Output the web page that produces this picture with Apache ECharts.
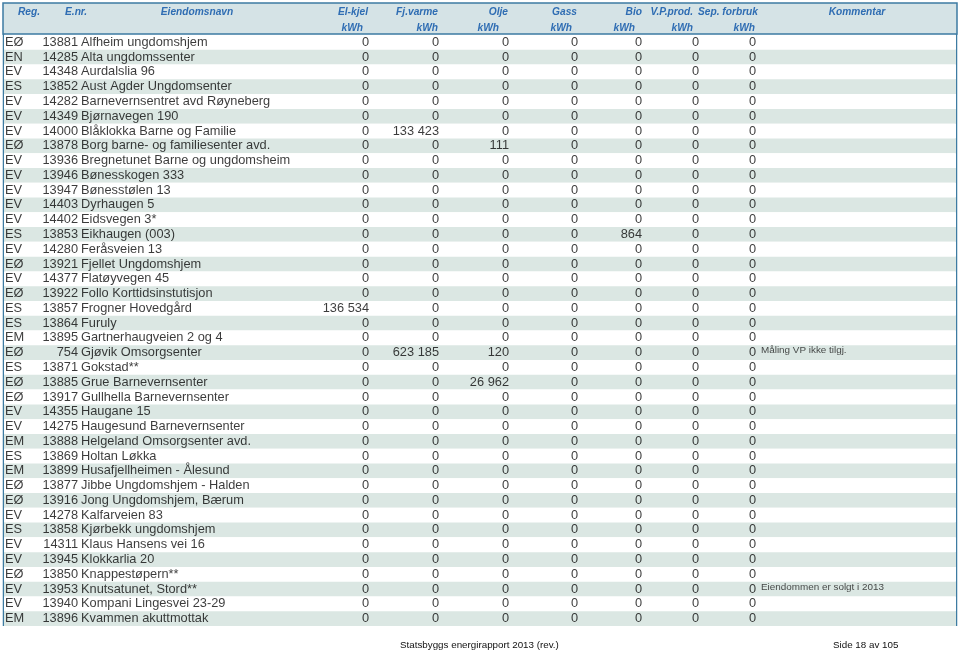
<!DOCTYPE html>
<html>
<head>
<meta charset="utf-8">
<title>Statsbygg energirapport 2013</title>
<script src="https://cdn.jsdelivr.net/npm/echarts@6/dist/echarts.min.js"></script>
<style>
  html, body { margin: 0; padding: 0; background: #fff; }
  #chart { width: 960px; height: 652px; }
</style>
</head>
<body>
<div id="chart"></div>
<script>
// table data, one entry per row
const reg = ["EØ", "EN", "EV", "ES", "EV", "EV", "EV", "EØ", "EV", "EV",
  "EV", "EV", "EV", "ES", "EV", "EØ", "EV", "EØ", "ES", "ES",
  "EM", "EØ", "ES", "EØ", "EØ", "EV", "EV", "EM", "ES", "EM",
  "EØ", "EØ", "EV", "ES", "EV", "EV", "EØ", "EV", "EV", "EM"];
const enr = [13881, 14285, 14348, 13852, 14282, 14349, 14000, 13878, 13936, 13946,
  13947, 14403, 14402, 13853, 14280, 13921, 14377, 13922, 13857, 13864,
  13895, 754, 13871, 13885, 13917, 14355, 14275, 13888, 13869, 13899,
  13877, 13916, 14278, 13858, 14311, 13945, 13850, 13953, 13940, 13896];
const names = [
  "Alfheim ungdomshjem", "Alta ungdomssenter", "Aurdalslia 96", "Aust Agder Ungdomsenter",
  "Barnevernsentret avd Røyneberg", "Bjørnavegen 190", "Blåklokka Barne og Familie",
  "Borg barne- og familiesenter avd.", "Bregnetunet Barne og ungdomsheim", "Bønesskogen 333",
  "Bønesstølen 13", "Dyrhaugen 5", "Eidsvegen 3*", "Eikhaugen (003)", "Feråsveien 13",
  "Fjellet Ungdomshjem", "Flatøyvegen 45", "Follo Korttidsinstutisjon", "Frogner Hovedgård",
  "Furuly", "Gartnerhaugveien 2 og 4", "Gjøvik Omsorgsenter", "Gokstad**",
  "Grue Barnevernsenter", "Gullhella Barnevernsenter", "Haugane 15", "Haugesund Barnevernsenter",
  "Helgeland Omsorgsenter avd.", "Holtan Løkka", "Husafjellheimen - Ålesund",
  "Jibbe Ungdomshjem - Halden", "Jong Ungdomshjem, Bærum", "Kalfarveien 83",
  "Kjørbekk ungdomshjem", "Klaus Hansens vei 16", "Klokkarlia 20", "Knappestøpern**",
  "Knutsatunet, Stord**", "Kompani Lingesvei 23-29", "Kvammen akuttmottak"
];
const elKjel = [0, 0, 0, 0, 0, 0, 0, 0, 0, 0,
  0, 0, 0, 0, 0, 0, 0, 0, 136534, 0,
  0, 0, 0, 0, 0, 0, 0, 0, 0, 0,
  0, 0, 0, 0, 0, 0, 0, 0, 0, 0];
const fjVarme = [0, 0, 0, 0, 0, 0, 133423, 0, 0, 0,
  0, 0, 0, 0, 0, 0, 0, 0, 0, 0,
  0, 623185, 0, 0, 0, 0, 0, 0, 0, 0,
  0, 0, 0, 0, 0, 0, 0, 0, 0, 0];
const olje = [0, 0, 0, 0, 0, 0, 0, 111, 0, 0,
  0, 0, 0, 0, 0, 0, 0, 0, 0, 0,
  0, 120, 0, 26962, 0, 0, 0, 0, 0, 0,
  0, 0, 0, 0, 0, 0, 0, 0, 0, 0];
const gass = [0, 0, 0, 0, 0, 0, 0, 0, 0, 0,
  0, 0, 0, 0, 0, 0, 0, 0, 0, 0,
  0, 0, 0, 0, 0, 0, 0, 0, 0, 0,
  0, 0, 0, 0, 0, 0, 0, 0, 0, 0];
const bio = [0, 0, 0, 0, 0, 0, 0, 0, 0, 0,
  0, 0, 0, 864, 0, 0, 0, 0, 0, 0,
  0, 0, 0, 0, 0, 0, 0, 0, 0, 0,
  0, 0, 0, 0, 0, 0, 0, 0, 0, 0];
const vpProd = [0, 0, 0, 0, 0, 0, 0, 0, 0, 0,
  0, 0, 0, 0, 0, 0, 0, 0, 0, 0,
  0, 0, 0, 0, 0, 0, 0, 0, 0, 0,
  0, 0, 0, 0, 0, 0, 0, 0, 0, 0];
const sepForbruk = [0, 0, 0, 0, 0, 0, 0, 0, 0, 0,
  0, 0, 0, 0, 0, 0, 0, 0, 0, 0,
  0, 0, 0, 0, 0, 0, 0, 0, 0, 0,
  0, 0, 0, 0, 0, 0, 0, 0, 0, 0];
const comments = {21: "Måling VP ikke tilgj.", 37: "Eiendommen er solgt i 2013"};

const headTop = ["Reg.", "E.nr.", "Eiendomsnavn", "El-kjel", "Fj.varme", "Olje", "Gass", "Bio", "V.P.prod.", "Sep. forbruk", "Kommentar"];
const footerLeft = "Statsbyggs energirapport 2013 (rev.)";
const footerRight = "Side 18 av 105";

// layout
const FONT = '"Liberation Sans", Arial, Helvetica, sans-serif';
const BLUE = "#2f6db3";
const BORDER = "#3d7ba2";
const rowIdx = names.map((_, i) => i);

function fmt(v) {
  return String(v).replace(/\B(?=(\d{3})+(?!\d))/g, " ");
}

const chart = echarts.init(document.getElementById("chart"), null, { renderer: "canvas" });

// x anchor of each column (right edge for numbers, left edge for text)
const cols = [
  { vals: reg, x: 5, align: "right", fmt: (v) => v },
  { vals: enr, x: 78, align: "left", fmt: (v) => String(v) },
  { vals: names, x: 81, align: "right", fmt: (v) => v },
  { vals: elKjel, x: 369, align: "left", fmt: fmt },
  { vals: fjVarme, x: 439, align: "left", fmt: fmt },
  { vals: olje, x: 509, align: "left", fmt: fmt },
  { vals: gass, x: 578, align: "left", fmt: fmt },
  { vals: bio, x: 642, align: "left", fmt: fmt },
  { vals: vpProd, x: 699, align: "left", fmt: fmt },
  { vals: sepForbruk, x: 756, align: "left", fmt: fmt },
];

const series = cols.map((c) => ({
  type: "scatter",
  symbolSize: 0,
  silent: true,
  data: c.vals.map((v, i) => ({ value: [c.x, i], label: { formatter: c.fmt(v) } })),
  label: {
    show: true,
    position: c.align,
    distance: 0,
    color: "#0a0a0a",
    fontSize: 12.8,
    fontFamily: FONT,
  },
}));

series.push({
  type: "scatter",
  symbolSize: 0,
  silent: true,
  data: Object.keys(comments).map((k) => ({ value: [761, +k], label: { formatter: comments[k] } })),
  label: {
    show: true,
    position: "right",
    distance: 0,
    offset: [0, -2],
    color: "#1a1a1a",
    fontSize: 9.9,
    fontFamily: FONT,
  },
});

// header label positions: [x, align]
const headPos = [
  [29, "center"], [65, "left"], [197, "center"], [368, "right"], [438, "right"],
  [508, "right"], [577, "right"], [642, "right"], [693, "right"], [758, "right"], [857, "center"],
];
const unitPos = [363, 438, 499, 572, 635, 693, 755];

const headerText = (text, x, y, align) => ({
  type: "text",
  x: x,
  y: y,
  silent: true,
  style: {
    text: text,
    align: align,
    verticalAlign: "middle",
    fill: BLUE,
    font: "italic bold 10.2px " + FONT,
  },
});

const graphics = [
  {
    type: "rect",
    shape: { x: 3, y: 3, width: 954, height: 31 },
    style: { fill: "#d5e3e6", stroke: BORDER, lineWidth: 1.5 },
    silent: true,
  },
  { type: "line", shape: { x1: 3.5, y1: 34, x2: 3.5, y2: 626 }, style: { stroke: BORDER, lineWidth: 1.5 }, silent: true },
  { type: "line", shape: { x1: 956.5, y1: 34, x2: 956.5, y2: 626 }, style: { stroke: BORDER, lineWidth: 1.5 }, silent: true },
];
headTop.forEach((t, i) => graphics.push(headerText(t, headPos[i][0], 12.5, headPos[i][1])));
unitPos.forEach((x) => graphics.push(headerText("kWh", x, 28, "right")));
graphics.push({
  type: "text", x: 400, y: 645, silent: true,
  style: { text: footerLeft, fill: "#111", font: "9.8px " + FONT, verticalAlign: "middle" },
});
graphics.push({
  type: "text", x: 833, y: 645, silent: true,
  style: { text: footerRight, fill: "#111", font: "9.8px " + FONT, verticalAlign: "middle" },
});

chart.setOption({
  animation: false,
  backgroundColor: "#fff",
  grid: { left: 4, right: 4, top: 35, height: 591 },
  xAxis: {
    type: "value",
    min: 4,
    max: 956,
    show: false,
  },
  yAxis: {
    type: "category",
    inverse: true,
    data: rowIdx,
    axisLine: { show: false },
    axisTick: { show: false, interval: 0 },
    axisLabel: { show: false, interval: 0 },
    splitLine: { show: false, interval: 0 },
    splitArea: { show: true, interval: 0, areaStyle: { color: ["#ffffff", "#dbe7e3"] } },
  },
  series: series,
  graphic: graphics,
});
</script>
</body>
</html>
